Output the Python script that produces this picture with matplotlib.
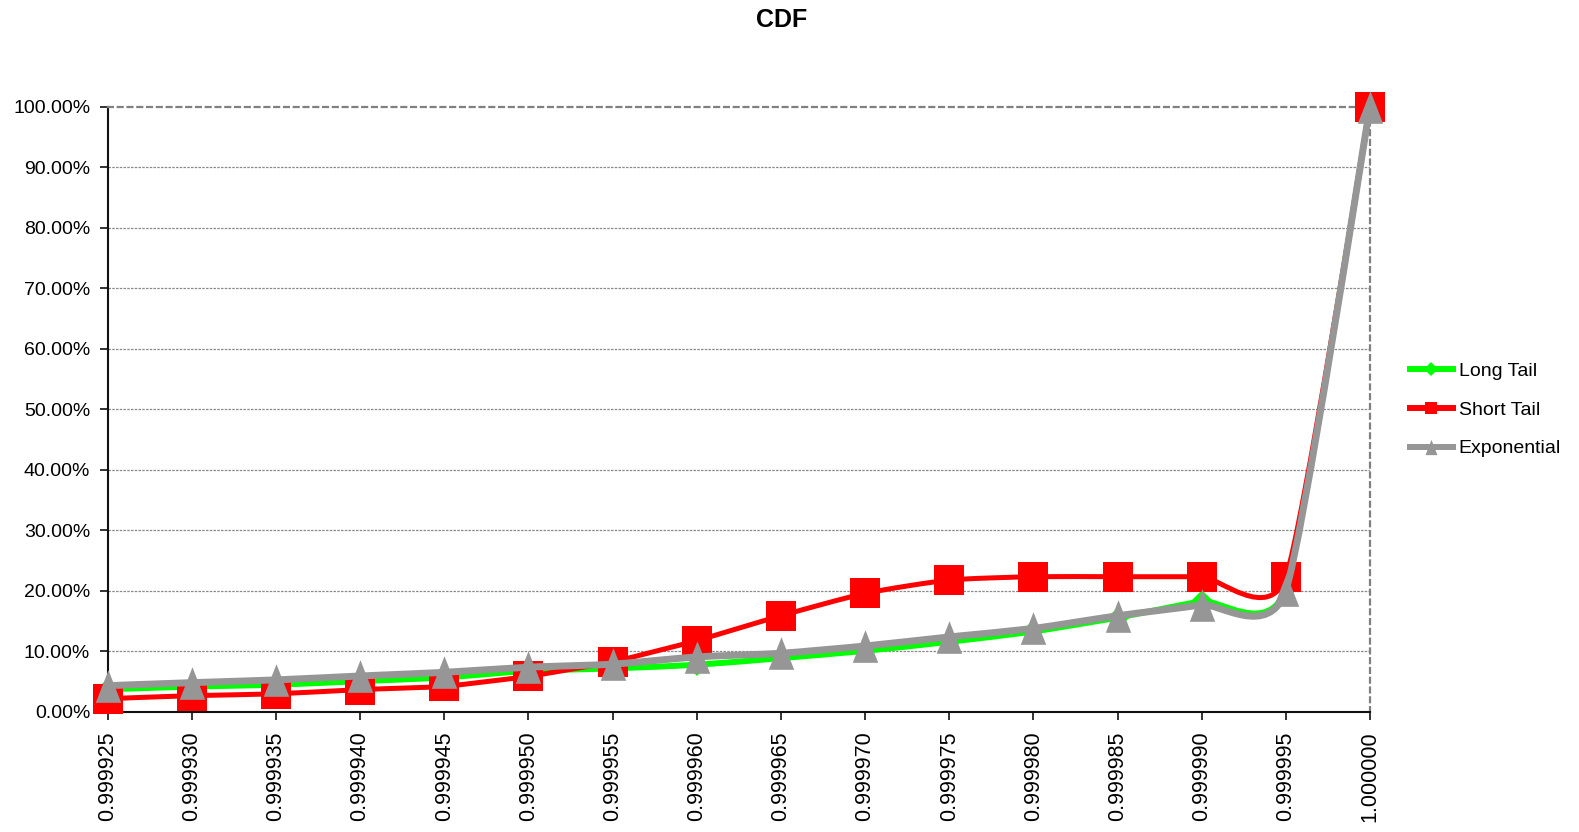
import matplotlib
matplotlib.use("Agg")
import matplotlib.pyplot as plt
from matplotlib.path import Path
from matplotlib.patches import PathPatch
from matplotlib.lines import Line2D

plt.rcParams['font.family'] = ['Liberation Sans', 'DejaVu Sans']

categories = ["0.999925", "0.999930", "0.999935", "0.999940", "0.999945",
              "0.999950", "0.999955", "0.999960", "0.999965", "0.999970",
              "0.999975", "0.999980", "0.999985", "0.999990", "0.999995",
              "1.000000"]
long_tail = [3.75, 4.2, 4.5, 5.1, 5.7, 6.8, 7.2, 7.8, 8.9, 10.1, 11.6, 13.3,
             15.6, 18.3, 20.4, 100.0]
short_tail = [2.2, 2.7, 3.0, 3.7, 4.25, 5.9, 8.3, 11.8, 15.9, 19.6, 21.8,
              22.35, 22.35, 22.35, 22.35, 100.0]
exponential = [4.35, 4.85, 5.3, 5.95, 6.55, 7.4, 7.9, 9.1, 9.7, 10.9, 12.4,
               13.8, 15.9, 17.7, 20.1, 100.0]
y_ticks = [0, 10, 20, 30, 40, 50, 60, 70, 80, 90, 100]


def smooth_path(xs, ys, k=0.1):
    pts = list(zip(xs, ys))
    n = len(pts)
    verts = [pts[0]]
    codes = [Path.MOVETO]
    for i in range(n - 1):
        p0 = pts[i - 1] if i > 0 else pts[i]
        p1 = pts[i]
        p2 = pts[i + 1]
        p3 = pts[i + 2] if i + 2 < n else pts[i + 1]
        c1 = (p1[0] + k * (p2[0] - p0[0]), p1[1] + k * (p2[1] - p0[1]))
        c2 = (p2[0] - k * (p3[0] - p1[0]), p2[1] - k * (p3[1] - p1[1]))
        verts += [c1, c2, p2]
        codes += [Path.CURVE4] * 3
    return Path(verts, codes)


fig = plt.figure(figsize=(15.79, 8.32), dpi=100)
ax = fig.add_axes([107.5 / 1579, 1 - 712 / 832, (1370 - 107.5) / 1579, (712 - 106.7) / 832])

xs = list(range(len(categories)))
tri = [(-0.39, -0.5), (0.39, -0.5), (0.0, 0.5), (-0.39, -0.5)]

series = [
    ("Long Tail", long_tail, '#00FF00', 4.3, 'D', 11.5, 'D', 7.5),
    ("Short Tail", short_tail, '#FF0000', 3.6, 's', 21.5, 's', 8.0),
    ("Exponential", exponential, '#969696', 5.0, tri, 23.5, tri, 11),
]

handles = []
for z, (name, vals, col, lw, mk, ms, lmk, lms) in enumerate(series):
    patch = PathPatch(smooth_path(xs, vals), facecolor='none', edgecolor=col,
                      lw=lw, capstyle='round', joinstyle='round',
                      zorder=3 + 2 * z, clip_on=False)
    ax.add_patch(patch)
    ax.plot(xs, vals, linestyle='none', marker=mk, markersize=ms,
            color=col, markeredgecolor=col, markeredgewidth=0,
            zorder=4 + 2 * z, clip_on=False)
    handles.append(Line2D([], [], color=col, lw=4.3, marker=lmk,
                          markersize=lms, markeredgewidth=0, label=name))

ax.set_xlim(0, 15)
ax.set_ylim(0, 100)
ax.set_yticks(y_ticks)
ax.set_yticklabels([f"{v:.2f}%" for v in y_ticks], fontsize=14)
ax.set_xticks(xs)
ax.set_xticklabels(categories, rotation=90, fontsize=15.5)

for v in y_ticks[1:-1]:
    ax.axhline(v, color='#8a8a8a', lw=0.9, ls=(0, (2, 1)), zorder=1)

for s in ['top', 'right']:
    ax.spines[s].set_color('#808080')
    ax.spines[s].set_linewidth(1.6)
    ax.spines[s].set_linestyle((0, (2.2, 2.2)))
for s in ['left', 'bottom']:
    ax.spines[s].set_color('#111111')
    ax.spines[s].set_linewidth(1.5)

ax.tick_params(axis='y', direction='out', length=5.5, width=1.2, pad=7,
               colors='#111111', labelcolor='black')
ax.tick_params(axis='x', direction='out', length=6, width=1.2, pad=8,
               colors='#111111', labelcolor='black')

fig.text(782 / 1579, 1 - 20 / 832, "CDF", fontsize=18, fontweight='bold',
         ha='center', va='center')

fig.legend(handles=handles, loc='center left',
           bbox_to_anchor=(1410 / 1579, 1 - 410 / 832), frameon=False,
           fontsize=14, handlelength=2.2, handletextpad=0.3,
           labelspacing=1.08, borderpad=0, borderaxespad=0)

fig.savefig("out.png", dpi=100)
